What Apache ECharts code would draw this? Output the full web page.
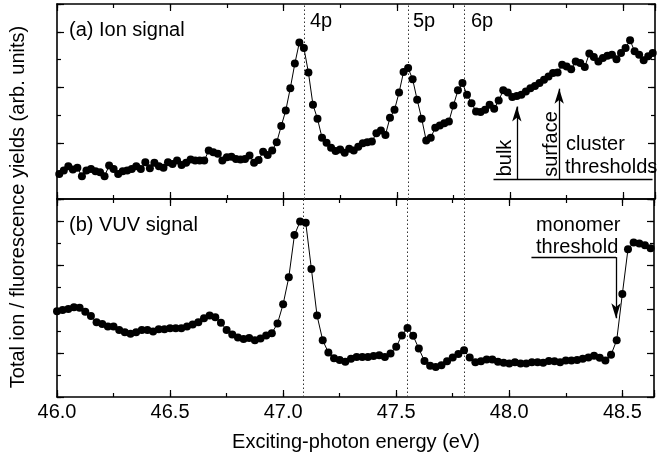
<!DOCTYPE html>
<html><head><meta charset="utf-8">
<script src="https://cdn.jsdelivr.net/npm/echarts@6/dist/echarts.min.js"></script>
<style>html,body{margin:0;padding:0;background:#fff}#c{width:657px;height:456px}</style>
</head><body><div id="c"></div>
<script>
// (a) Ion signal
const ionEnergy = [
46.01,46.03,46.05,46.07,46.09,46.11,46.13,46.15,46.17,46.19,
46.21,46.23,46.25,46.27,46.29,46.31,46.33,46.35,46.37,46.39,
46.41,46.43,46.45,46.47,46.49,46.51,46.53,46.55,46.57,46.59,
46.61,46.63,46.65,46.67,46.69,46.71,46.73,46.75,46.77,46.79,
46.81,46.83,46.85,46.87,46.89,46.91,46.93,46.95,46.97,46.99,
47.01,47.03,47.05,47.07,47.09,47.11,47.13,47.15,47.17,47.19,
47.21,47.23,47.25,47.27,47.29,47.31,47.33,47.35,47.37,47.39,
47.41,47.43,47.45,47.47,47.49,47.51,47.53,47.55,47.57,47.59,
47.61,47.63,47.65,47.67,47.69,47.71,47.73,47.75,47.77,47.79,
47.81,47.83,47.85,47.87,47.89,47.91,47.93,47.95,47.97,47.99,
48.01,48.03,48.05,48.07,48.09,48.11,48.13,48.15,48.17,48.19,
48.21,48.23,48.25,48.27,48.29,48.31,48.33,48.35,48.37,48.39,
48.41,48.43,48.45,48.47,48.49,48.51,48.53,48.55,48.57,48.59,
48.61,48.63];
const ionSignal = [
4.5,5.1,5.9,5.3,5.6,4.1,5.1,5.4,5.0,4.8,
4.1,6.0,5.4,4.5,5.0,5.1,5.4,5.9,5.4,6.6,
5.5,6.5,5.9,5.6,6.6,6.3,6.9,6.1,6.5,7.1,
6.9,6.9,6.9,8.7,8.4,8.1,6.9,7.5,7.6,7.2,
7.1,7.2,7.8,6.5,7.0,8.5,7.9,8.7,10.2,13.1,
15.9,19.9,24.3,28.1,27.1,22.7,16.9,14.4,11.0,10.1,
9.2,8.6,8.9,8.3,9.0,8.7,9.4,10.0,10.2,10.3,
11.8,12.3,11.5,14.6,16.0,19.1,22.8,23.5,21.5,17.8,
14.4,10.5,11.0,12.8,13.2,13.6,13.9,16.8,19.5,20.8,
18.7,17.2,15.7,15.6,16.0,16.9,16.2,17.7,19.5,19.1,
18.3,18.5,18.7,19.3,19.9,20.3,20.8,21.4,22.0,22.6,
22.7,24.1,23.8,23.3,24.7,24.4,23.7,26.1,25.5,24.7,
25.3,25.7,25.9,25.1,26.2,27.1,28.5,26.5,25.9,24.9,
25.6,26.2];
// (b) VUV signal
const vuvEnergy = [
46.000,46.025,46.050,46.075,46.100,46.125,46.150,46.175,46.200,46.225,
46.250,46.275,46.300,46.325,46.350,46.375,46.400,46.425,46.450,46.475,
46.500,46.525,46.550,46.575,46.600,46.625,46.650,46.675,46.700,46.725,
46.750,46.775,46.800,46.825,46.850,46.875,46.900,46.925,46.950,46.975,
47.000,47.025,47.050,47.075,47.100,47.125,47.150,47.175,47.200,47.225,
47.250,47.275,47.300,47.325,47.350,47.375,47.400,47.425,47.450,47.475,
47.500,47.525,47.550,47.575,47.600,47.625,47.650,47.675,47.700,47.725,
47.750,47.775,47.800,47.825,47.850,47.875,47.900,47.925,47.950,47.975,
48.000,48.025,48.050,48.075,48.100,48.125,48.150,48.175,48.200,48.225,
48.250,48.275,48.300,48.325,48.350,48.375,48.400,48.425,48.450,48.475,
48.500,48.525,48.550,48.575,48.600,48.625];
const vuvSignal = [
19.5,19.8,20.0,20.4,20.3,19.4,18.4,17.0,16.6,16.0,
16.0,15.2,14.7,14.4,14.7,15.2,15.2,14.9,15.4,15.4,
15.6,15.6,15.6,16.0,16.5,17.0,17.9,18.5,18.1,16.9,
15.2,14.2,13.5,13.2,13.4,12.9,13.3,14.0,14.5,16.7,
21.1,27.2,36.8,39.9,39.6,29.1,18.5,12.9,10.1,8.8,
8.4,8.0,8.7,9.1,9.1,9.1,9.3,9.5,9.1,9.9,
11.4,14.0,15.7,13.9,11.0,8.2,7.1,6.8,7.2,8.1,
9.0,9.8,10.6,9.0,7.9,8.1,8.5,8.5,8.0,7.8,
7.6,7.9,7.6,7.6,7.9,7.9,7.8,8.2,8.1,7.9,
8.3,8.3,8.4,8.7,9.0,9.4,8.9,8.3,9.6,12.9,
23.4,33.6,35.1,34.9,34.5,33.8];

const resonanceNames = ['4p', '5p', '6p'];
const resonanceEnergy = [47.09, 47.55, 47.80];
const bulkThreshold = 48.03, surfaceThreshold = 48.217, monomerThreshold = 48.472;

const FONT = "'Liberation Sans', Arial, Helvetica, sans-serif";
const FS = 20;
const X_MIN = 46, X_MAX = 48.64;

function xAx(gi, pos, major, labels) {
  return {
    type: 'value', gridIndex: gi, position: pos, min: X_MIN, max: X_MAX,
    interval: major ? 0.5 : 0.25,
    axisLine: { show: major, onZero: false, lineStyle: { color: '#000', width: 1.6 } },
    axisTick: { show: true, inside: true, length: major ? 7 : 4, lineStyle: { color: '#000', width: 1.2 } },
    axisLabel: {
      show: labels, interval: 0, margin: 5, color: '#000', fontFamily: FONT, fontSize: FS,
      formatter: v => (Math.abs(v * 2 - Math.round(v * 2)) < 1e-9 ? v.toFixed(1) : '')
    },
    splitLine: { show: false }
  };
}
function yAx(gi, pos, major, max) {
  return {
    type: 'value', gridIndex: gi, position: pos, min: 0, max: max,
    interval: major ? 10 : 5,
    axisLine: { show: major, onZero: false, lineStyle: { color: '#000', width: 1.6 } },
    axisTick: { show: true, inside: true, length: major ? 7 : 4, lineStyle: { color: '#000', width: 1.2 } },
    axisLabel: { show: false },
    splitLine: { show: false }
  };
}

const chart = echarts.init(document.getElementById('c'), null, { renderer: 'canvas' });
const txt = (text, x, y, align) => ({
  type: 'text', x: x, y: y, silent: true,
  style: { text: text, font: FS + 'px ' + FONT, fill: '#000', align: align || 'left', verticalAlign: 'middle' }
});
const rot = (text, x, y) => ({
  type: 'text', x: x, y: y, rotation: Math.PI / 2, silent: true,
  style: { text: text, font: FS + 'px ' + FONT, fill: '#000', align: 'center', verticalAlign: 'middle' }
});

const dotted = { type: [1.5, 2.5], color: '#333', width: 1 };
const arrowLine = { type: 'solid', color: '#000', width: 1.3 };

chart.setOption({
  animation: false,
  backgroundColor: '#fff',
  grid: [
    { left: 57, top: 4, width: 598, height: 195 },
    { left: 57, top: 199, width: 598, height: 198 }
  ],
  xAxis: [
    xAx(0, 'bottom', true, false), xAx(0, 'bottom', false, false),
    xAx(0, 'top', true, false), xAx(0, 'top', false, false),
    xAx(1, 'bottom', true, true), xAx(1, 'bottom', false, false),
    xAx(1, 'top', true, false), xAx(1, 'top', false, false)
  ],
  yAxis: [
    yAx(0, 'left', true, 35), yAx(0, 'left', false, 35),
    yAx(0, 'right', true, 35), yAx(0, 'right', false, 35),
    yAx(1, 'left', true, 45), yAx(1, 'left', false, 45),
    yAx(1, 'right', true, 45), yAx(1, 'right', false, 45)
  ],
  series: [
    {
      type: 'line', xAxisIndex: 0, yAxisIndex: 0,
      data: ionEnergy.map((e, i) => [e, ionSignal[i]]),
      symbol: 'circle', symbolSize: 8, itemStyle: { color: '#000' },
      lineStyle: { color: '#000', width: 1 }, z: 3,
      markLine: {
        silent: true, symbol: 'none', label: { show: false }, lineStyle: dotted, z: 1,
        data: resonanceEnergy.map(e => ({ xAxis: e }))
      }
    },
    {
      type: 'line', xAxisIndex: 4, yAxisIndex: 4,
      data: vuvEnergy.map((e, i) => [e, vuvSignal[i]]),
      symbol: 'circle', symbolSize: 8, itemStyle: { color: '#000' },
      lineStyle: { color: '#000', width: 1 }, z: 3,
      markLine: {
        silent: true, symbol: 'none', label: { show: false }, lineStyle: dotted, z: 1,
        data: resonanceEnergy.map(e => ({ xAxis: e }))
      }
    },
    {
      type: 'line', xAxisIndex: 0, yAxisIndex: 0, data: [],
      markLine: {
        silent: true, label: { show: false }, lineStyle: arrowLine, symbolSize: [7, 15],
        data: [
          [{ coord: [47.927, 3.47], symbol: 'none' }, { coord: [48.629, 3.47], symbol: 'none' }],
          [{ coord: [bulkThreshold, 3.47], symbol: 'none' }, { coord: [bulkThreshold, 16.6], symbol: 'arrow' }],
          [{ coord: [surfaceThreshold, 3.47], symbol: 'none' }, { coord: [surfaceThreshold, 19.8], symbol: 'arrow' }]
        ]
      }
    },
    {
      type: 'line', xAxisIndex: 4, yAxisIndex: 4, data: [],
      markLine: {
        silent: true, label: { show: false }, lineStyle: arrowLine, symbolSize: [7, 15],
        data: [
          [{ coord: [48.098, 31.8], symbol: 'none' }, { coord: [monomerThreshold, 31.8], symbol: 'none' }],
          [{ coord: [monomerThreshold, 31.8], symbol: 'none' }, { coord: [monomerThreshold, 17.9], symbol: 'arrow' }]
        ]
      }
    }
  ],
  graphic: [
    txt('(a) Ion signal', 69, 30),
    txt('(b) VUV signal', 69, 225),
    txt(resonanceNames[0], 310, 21),
    txt(resonanceNames[1], 413, 21),
    txt(resonanceNames[2], 471, 21),
    rot('bulk', 505, 158),
    rot('surface', 551, 144),
    txt('cluster', 566, 144),
    txt('thresholds', 565, 167),
    txt('monomer', 536, 225),
    txt('threshold', 536, 247),
    rot('Total ion / fluorescence yields (arb. units)', 18, 207),
    txt('Exciting-photon energy (eV)', 356, 442, 'center')
  ]
});
</script>
</body></html>
